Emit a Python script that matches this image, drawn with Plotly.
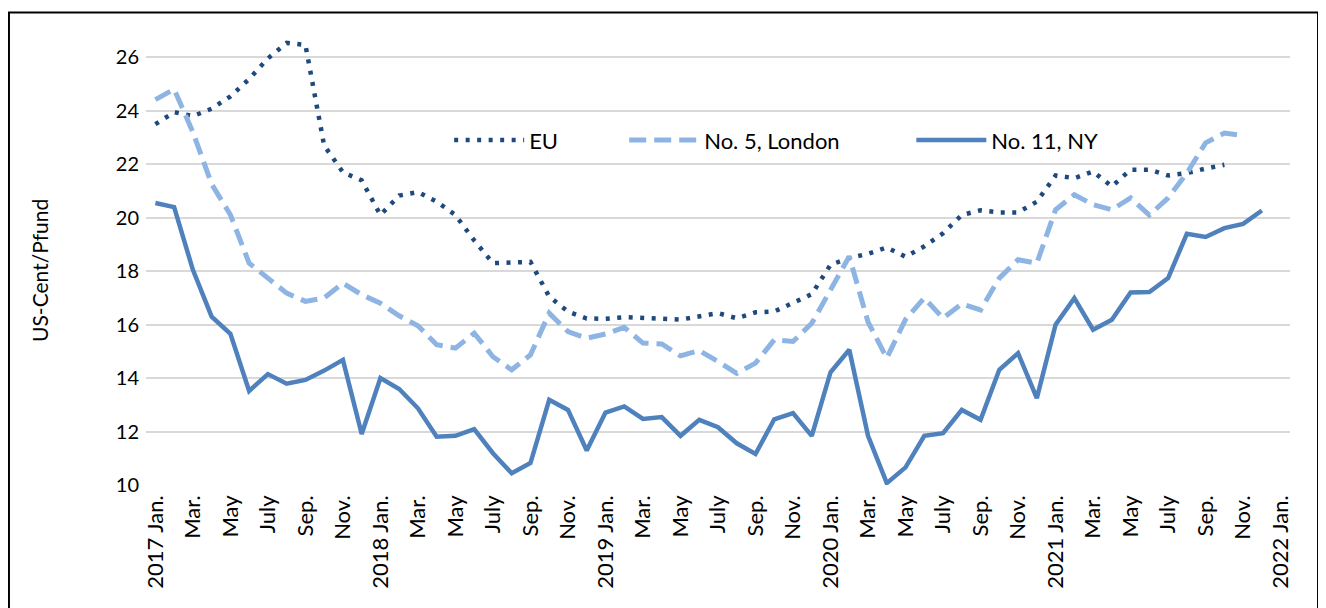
import plotly.graph_objects as go

# ---- data (US-Cent/Pfund), monthly from 2017 Jan. ----
month_index = list(range(61))  # 2017 Jan. .. 2022 Jan.

tick_labels = ["2017 Jan.", "Mar.", "May", "July", "Sep.", "Nov.",
               "2018 Jan.", "Mar.", "May", "July", "Sep.", "Nov.",
               "2019 Jan.", "Mar.", "May", "July", "Sep.", "Nov.",
               "2020 Jan.", "Mar.", "May", "July", "Sep.", "Nov.",
               "2021 Jan.", "Mar.", "May", "July", "Sep.", "Nov.",
               "2022 Jan."]
tick_positions = month_index[::2]

eu = [23.5, 23.95, 23.8, 24.08, 24.54, 25.19, 25.96, 26.54, 26.47, 22.7,
      21.7, 21.4, 20.1, 20.83, 20.96, 20.6, 20.1, 19.15, 18.3, 18.34,
      18.35, 17.05, 16.49, 16.23, 16.22, 16.28, 16.23, 16.22, 16.19, 16.29,
      16.43, 16.24, 16.46, 16.49, 16.83, 17.14, 18.24, 18.49, 18.65, 18.89,
      18.54, 18.93, 19.42, 20.1, 20.28, 20.2, 20.2, 20.6, 21.58, 21.48,
      21.73, 21.17, 21.8, 21.8, 21.58, 21.67, 21.84, 21.98]

london = [24.42, 24.81, 23.2, 21.26, 20.11, 18.3, 17.74, 17.18, 16.87, 17.0,
          17.55, 17.12, 16.8, 16.33, 15.96, 15.25, 15.12, 15.68, 14.8, 14.31,
          14.87, 16.43, 15.74, 15.49, 15.65, 15.9, 15.31, 15.28, 14.83, 15.03,
          14.62, 14.18, 14.56, 15.43, 15.37, 16.05, 17.3, 18.55, 16.1, 14.75,
          16.2, 17.0, 16.24, 16.78, 16.55, 17.74, 18.43, 18.3, 20.3, 20.86,
          20.49, 20.3, 20.74, 20.1, 20.74, 21.67, 22.8, 23.17, 23.07]

ny = [20.55, 20.4, 18.05, 16.3, 15.66, 13.52, 14.15, 13.79, 13.93, 14.28,
      14.68, 11.91, 14.0, 13.59, 12.87, 11.81, 11.84, 12.09, 11.19, 10.44,
      10.82, 13.19, 12.81, 11.29, 12.71, 12.94, 12.47, 12.54, 11.84, 12.44,
      12.16, 11.56, 11.16, 12.46, 12.69, 11.84, 14.22, 15.06, 11.84, 10.07,
      10.66, 11.84, 11.94, 12.81, 12.44, 14.31, 14.93, 13.25, 16.0, 16.99,
      15.81, 16.18, 17.2, 17.22, 17.74, 19.4, 19.28, 19.61, 19.77, 20.27]

FONT = "Lato"
C_EU = "#1F497D"
C_LON = "#8DB4E2"
C_NY = "#4F81BD"

fig = go.Figure()
fig.add_trace(go.Scatter(
    x=month_index[:len(eu)], y=eu, mode="lines", name="EU",
    line=dict(color=C_EU, width=4.5, dash="4px,7.5px"), legend="legend"))
fig.add_trace(go.Scatter(
    x=month_index[:len(london)], y=london, mode="lines", name="No. 5, London",
    line=dict(color=C_LON, width=5, dash="17px,8px"), legend="legend2"))
fig.add_trace(go.Scatter(
    x=month_index[:len(ny)], y=ny, mode="lines", name="No. 11, NY",
    line=dict(color=C_NY, width=4.5), legend="legend3"))

leg_common = dict(orientation="h", yanchor="middle", xanchor="left",
                  bgcolor="rgba(0,0,0,0)", itemwidth=70,
                  font=dict(family=FONT, size=22, color="#000000"))
LEG_Y = 0.768
fig.update_layout(
    width=1326, height=608,
    margin=dict(l=138, r=44, t=27.6, b=131),
    paper_bgcolor="white", plot_bgcolor="white",
    font=dict(family=FONT, color="#000000"),
    showlegend=True,
    legend=dict(x=0.265, y=LEG_Y, **leg_common),
    legend2=dict(x=0.418, y=LEG_Y, **leg_common),
    legend3=dict(x=0.669, y=LEG_Y, **leg_common),
    xaxis=dict(range=[-0.5, 60.5], tickmode="array", tickvals=tick_positions,
               ticktext=tick_labels, tickangle=-90, showgrid=False,
               zeroline=False, showline=False, ticks="", ticklabelstandoff=5,
               tickfont=dict(family=FONT, size=22, color="#000000")),
    yaxis=dict(range=[10, 26.8], tickmode="array",
               tickvals=[10, 12, 14, 16, 18, 20, 22, 24, 26], showgrid=True,
               gridcolor="#D9D9D9", gridwidth=1.5, zeroline=False,
               showline=False, ticks="", ticklabelstandoff=6,
               tickfont=dict(family=FONT, size=20, color="#000000")),
    annotations=[dict(text="US-Cent/Pfund", xref="paper", yref="paper",
                      x=-0.093, y=0.478, textangle=-90, showarrow=False,
                      xanchor="center", yanchor="middle",
                      font=dict(family=FONT, size=21, color="#000000"))],
    shapes=[dict(type="rect", xref="paper", yref="paper",
                 x0=-0.1198, x1=1.0245, y0=-0.35, y1=1.0525,
                 line=dict(color="#000000", width=2), fillcolor="rgba(0,0,0,0)",
                 layer="below")],
)

fig.write_html("out.html")
